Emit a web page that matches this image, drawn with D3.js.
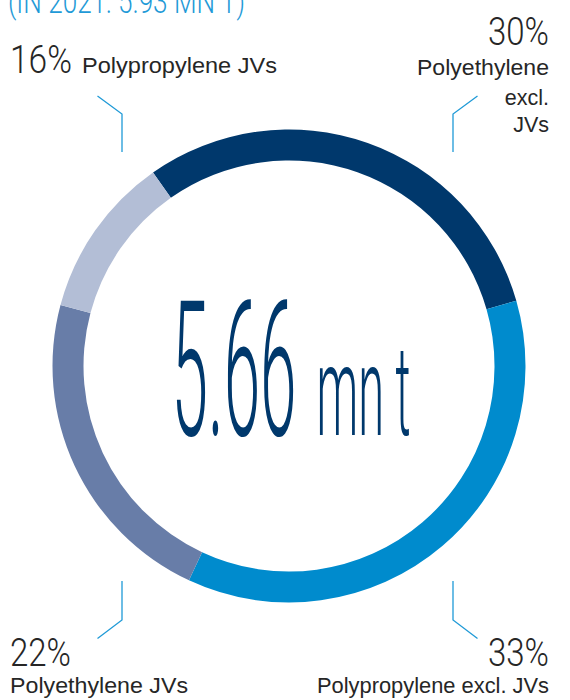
<!DOCTYPE html>
<html>
<head>
<meta charset="utf-8">
<script src="https://cdn.jsdelivr.net/npm/d3@7"></script>
<style>
  html, body { margin: 0; padding: 0; background: #ffffff; }
  svg { display: block; }
</style>
</head>
<body>
<div id="chart"></div>
<script>
// ---- data ----
const categories = ["Polyethylene excl. JVs", "Polypropylene excl. JVs", "Polyethylene JVs", "Polypropylene JVs"];
const percentLabels = ["30%", "33%", "22%", "16%"];
// arc shares as drawn in the reference ring
const arcShares = [30.3, 36.4, 22.2, 11.1];
const totalValue = "5.66";
const totalUnit = "mn t";
const headerText = "(IN 2021: 5.93 MN T)";

// ---- layout / style ----
const W = 570, H = 700;
const cx = 289, cy = 366;
const rOuter = 236.5, rInner = 205.5;
const startDeg = -35.1;
const colors = ["#00386C", "#008BCD", "#687DA8", "#B3BED6"];
const accent = "#1F9AD7";
const ink = "#262626";

const svg = d3.select("#chart").append("svg")
  .attr("width", W).attr("height", H);

// header (partly cut off at top)
svg.append("text")
  .attr("x", 8).attr("y", 13)
  .attr("font-family", "Roboto").attr("font-weight", 300)
  .attr("font-size", 33).attr("fill", accent)
  .attr("textLength", 237).attr("lengthAdjust", "spacingAndGlyphs")
  .text(headerText);

// ring
const start = startDeg * Math.PI / 180;
const pie = d3.pie().sort(null).value(d => d)
  .startAngle(start).endAngle(start + 2 * Math.PI);
const arc = d3.arc().innerRadius(rInner).outerRadius(rOuter);

const g = svg.append("g").attr("transform", `translate(${cx},${cy})`);
g.selectAll("path").data(pie(arcShares)).join("path")
  .attr("d", arc)
  .attr("fill", (d, i) => colors[i]);

// center text
svg.append("text")
  .attr("x", 171.5).attr("y", 434.5)
  .attr("font-family", "Roboto").attr("font-weight", 300)
  .attr("font-size", 190).attr("fill", colors[0])
  .attr("textLength", 125).attr("lengthAdjust", "spacingAndGlyphs")
  .text(totalValue);
svg.append("text")
  .attr("x", 316.5).attr("y", 434.5)
  .attr("font-family", "Roboto").attr("font-weight", 300)
  .attr("font-size", 127).attr("fill", colors[0])
  .attr("textLength", 94).attr("lengthAdjust", "spacingAndGlyphs")
  .text(totalUnit);

// labels: [category index, pct x, pct y, anchor, pct width, name lines [x, y, text, width]]
const labelLayout = [
  { i: 3, pct: [10, 72.5, "start", 62], names: [[82, 72.5, "Polypropylene JVs", 195]] },
  { i: 0, pct: [549, 45, "end", 61], names: [[549, 74.5, "Polyethylene", 132], [549, 104.5, "excl.", 0], [549, 132, "JVs", 0]] },
  { i: 2, pct: [10, 666, "start", 61], names: [[10, 693, categories[2], 178]] },
  { i: 1, pct: [549, 666, "end", 61], names: [[549, 693, categories[1], 232]] }
];

labelLayout.forEach(L => {
  const p = svg.append("text")
    .attr("x", L.pct[0]).attr("y", L.pct[1])
    .attr("text-anchor", L.pct[2])
    .attr("font-family", "Roboto").attr("font-weight", 300)
    .attr("font-size", 39).attr("fill", ink)
    .attr("textLength", L.pct[3]).attr("lengthAdjust", "spacingAndGlyphs")
    .text(percentLabels[L.i]);
  L.names.forEach(n => {
    const t = svg.append("text")
      .attr("x", n[0]).attr("y", n[1])
      .attr("text-anchor", L.pct[2])
      .attr("font-family", "Liberation Sans")
      .attr("font-size", 21.5).attr("fill", ink)
      .text(n[2]);
    if (n[3]) t.attr("textLength", n[3]).attr("lengthAdjust", "spacingAndGlyphs");
  });
});

// leader lines
const leaders = [
  [[97.5, 96], [122, 114], [122, 152]],
  [[477.5, 96], [453, 114], [453, 152]],
  [[122, 581], [122, 620], [97.5, 638.5]],
  [[453, 581], [453, 620], [477.5, 638.5]]
];
const line = d3.line();
svg.selectAll("path.leader").data(leaders).join("path")
  .attr("class", "leader")
  .attr("d", line)
  .attr("fill", "none")
  .attr("stroke", accent)
  .attr("stroke-width", 1.3);
</script>
</body>
</html>
